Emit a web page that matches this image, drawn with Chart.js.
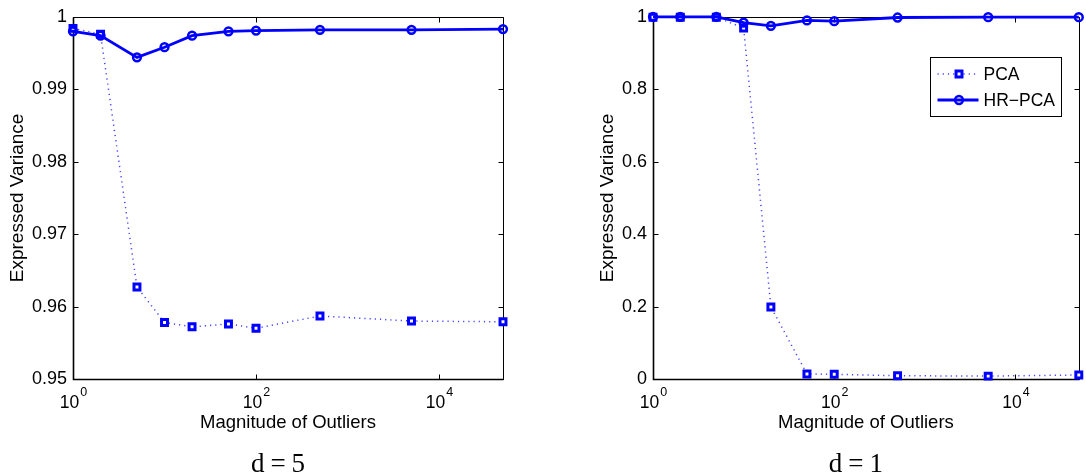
<!DOCTYPE html>
<html>
<head>
<meta charset="utf-8">
<script src="https://cdn.jsdelivr.net/npm/chart.js@4.4.1/dist/chart.umd.min.js"></script>
<style>
html,body{margin:0;padding:0;background:#fff;width:1086px;height:476px;overflow:hidden}
canvas{position:absolute;top:0}
#c-left{left:0}
#c-right{left:590px}
</style>
</head>
<body>
<canvas id="c-left" width="543" height="476"></canvas>
<canvas id="c-right" width="496" height="476"></canvas>
<script>
/* data */
const magnitudes=[1,2,5,10,20,50,100,500,5000,50000];
const pcaD5=[0.9984,0.9976,0.9627,0.9578,0.9572,0.9576,0.9570,0.9587,0.9580,0.9579];
const hrpcaD5=[0.9980,0.9974,0.9944,0.9958,0.9974,0.9980,0.9981,0.9982,0.9982,0.9983];
const pcaD1=[0.999,0.999,0.999,0.969,0.199,0.014,0.013,0.009,0.008,0.011];
const hrpcaD1=[1.0,1.0,1.0,0.984,0.975,0.990,0.988,0.998,0.999,0.999];
const xTickValues=[1,100,10000];
const xTickBase='10';
const xTickExps=['0','2','4'];
const seriesNames=['PCA','HR\u2212PCA'];
const captions=['d=5','d=1'];
const xTitle='Magnitude of Outliers';
const yTitle='Expressed Variance';

const SANS="'Liberation Sans', Arial, Helvetica, sans-serif";
const BLUE='#0000ff';
Chart.defaults.color='#000';
Chart.defaults.font.family=SANS;

/* MATLAB style box with inward ticks, drawn under the lines */
const framePlugin={
  id:'frame',
  beforeDatasetsDraw(chart){
    const {ctx,chartArea:a,scales:{x,y}}=chart;
    const L=Math.round(a.left)+0.5,R=Math.round(a.right)+0.5,T=Math.round(a.top)+0.5,B=Math.round(a.bottom)+0.5;
    const t=5;
    ctx.save();
    ctx.strokeStyle='#000';ctx.lineWidth=1;
    ctx.beginPath();
    ctx.rect(L,T,R-L,B-T);
    x.ticks.forEach(tk=>{
      const px=Math.round(x.getPixelForValue(tk.value))+0.5;
      ctx.moveTo(px,B);ctx.lineTo(px,B-t);
      ctx.moveTo(px,T);ctx.lineTo(px,T+t);
    });
    y.ticks.forEach(tk=>{
      const py=Math.round(y.getPixelForValue(tk.value))+0.5;
      ctx.moveTo(L,py);ctx.lineTo(L+t,py);
      ctx.moveTo(R,py);ctx.lineTo(R-t,py);
    });
    ctx.stroke();
    ctx.lineWidth=1.6;
    ctx.beginPath();
    ctx.moveTo(L,T);ctx.lineTo(L,B);ctx.lineTo(R,B);
    ctx.stroke();
    ctx.restore();
  }
};

/* x tick labels as 10 with a raised exponent, placed on the log scale */
const powerTicksPlugin={
  id:'powerTicks',
  afterDraw(chart){
    const {ctx,chartArea:a,scales:{x}}=chart;
    ctx.save();
    ctx.fillStyle='#000';
    ctx.textBaseline='alphabetic';ctx.textAlign='left';
    x.ticks.forEach(tk=>{
      const i=xTickValues.indexOf(tk.value);if(i<0)return;
      const px=x.getPixelForValue(tk.value);
      ctx.font='17.5px '+SANS;
      const wb=ctx.measureText(xTickBase).width;
      ctx.font='12.5px '+SANS;
      const we=ctx.measureText(xTickExps[i]).width;
      const x0=px-(wb+we+1)/2+0.5;
      ctx.font='17.5px '+SANS;
      ctx.fillText(xTickBase,x0,a.bottom+29);
      ctx.font='12.5px '+SANS;
      ctx.fillText(xTickExps[i],x0+wb+1,a.bottom+17);
    });
    ctx.restore();
  }
};

/* serif caption under each panel */
const captionPlugin={
  id:'caption',
  afterDraw(chart,args,opts){
    if(!opts.text)return;
    const {ctx,chartArea:a}=chart;
    ctx.save();
    ctx.font='27px "Liberation Serif", "DejaVu Serif", serif';
    ctx.letterSpacing='6px';
    ctx.fillStyle='#000';
    ctx.textAlign='left';
    ctx.textBaseline='alphabetic';
    const w=ctx.measureText(opts.text).width-6;
    ctx.fillText(opts.text,(a.left+a.right)/2-10-w/2,472);
    ctx.restore();
  }
};

/* boxed legend inside the plot, line sample + marker */
const boxLegendPlugin={
  id:'boxLegend',
  afterDraw(chart,args,opts){
    if(!opts.show)return;
    const {ctx,chartArea:a}=chart;
    const bx=Math.round(a.right-149)+0.5,by=Math.round(a.top+40)+0.5,bw=131,bh=59;
    ctx.save();
    ctx.fillStyle='#fff';ctx.fillRect(bx,by,bw,bh);
    ctx.strokeStyle='#000';ctx.lineWidth=1;ctx.strokeRect(bx,by,bw,bh);
    const rows=[by+16.5,by+42.5];
    chart.data.datasets.forEach((ds,r)=>{
      const yy=rows[r];
      ctx.save();
      ctx.strokeStyle=ds.borderColor;ctx.lineWidth=ds.borderWidth;
      ctx.setLineDash(ds.borderDash||[]);
      ctx.beginPath();ctx.moveTo(bx+7,yy);ctx.lineTo(bx+48,yy);ctx.stroke();
      ctx.setLineDash([]);
      ctx.strokeStyle=ds.pointBorderColor;ctx.fillStyle=ds.pointBackgroundColor;
      ctx.lineWidth=ds.pointBorderWidth;
      Chart.helpers.drawPoint(ctx,{pointStyle:ds.pointStyle,radius:ds.pointRadius,rotation:0,borderWidth:ds.pointBorderWidth},bx+28.5,yy);
      ctx.restore();
      ctx.fillStyle='#000';ctx.font='17.5px '+SANS;
      ctx.textAlign='left';ctx.textBaseline='middle';
      ctx.fillText(ds.label,bx+53,yy+1);
    });
    ctx.restore();
  }
};

function pts(ys){return magnitudes.map((m,i)=>({x:m,y:ys[i]}));}

function makePanel(id,pca,hr,yMin,yMax,yStep,yWidth,padRight,caption,showLegend){
  return new Chart(document.getElementById(id),{
    type:'line',
    data:{datasets:[
      {label:seriesNames[0],data:pts(pca),order:1,
       borderColor:'#4444ff',borderWidth:1.5,borderDash:[1.2,4],fill:false,tension:0,
       pointStyle:'rect',pointRadius:4.2,pointBorderWidth:3,
       pointBorderColor:BLUE,pointBackgroundColor:'#fff',clip:false},
      {label:seriesNames[1],data:pts(hr),order:0,
       borderColor:BLUE,borderWidth:2.8,fill:false,tension:0,
       pointStyle:'circle',pointRadius:3.9,pointBorderWidth:2.5,
       pointBorderColor:BLUE,pointBackgroundColor:'rgba(0,0,0,0)',clip:false}
    ]},
    plugins:[framePlugin,powerTicksPlugin,captionPlugin,boxLegendPlugin],
    options:{
      responsive:false,animation:false,devicePixelRatio:1,events:[],
      layout:{padding:{left:0,top:15,right:padRight,bottom:37}},
      plugins:{
        legend:{display:false},tooltip:{enabled:false},
        caption:{text:caption},
        boxLegend:{show:showLegend}
      },
      scales:{
        x:{type:'logarithmic',min:1,max:50000,
          afterBuildTicks:s=>{s.ticks=xTickValues.map(v=>({value:v}));},
          afterFit:s=>{s.height=60;},
          grid:{display:false,drawTicks:false},border:{display:false},
          ticks:{display:false,autoSkip:false,maxRotation:0},
          title:{display:true,text:xTitle,font:{size:18.5},padding:{top:0,bottom:5}}},
        y:{type:'linear',min:yMin,max:yMax,
          afterFit:s=>{s.width=yWidth;},
          grid:{display:false,drawTicks:false},border:{display:false},
          ticks:{stepSize:yStep,padding:6,font:{size:18},
            callback:v=>String(+(+v).toFixed(2))},
          title:{display:true,text:yTitle,font:{size:19},padding:{top:6,bottom:0}}}
      }
    }
  });
}

makePanel('c-left',pcaD5,hrpcaD5,0.95,1,0.01,73,40,captions[0],false);
makePanel('c-right',pcaD1,hrpcaD1,0,1,0.2,63,4,captions[1],true);
</script>
</body>
</html>
